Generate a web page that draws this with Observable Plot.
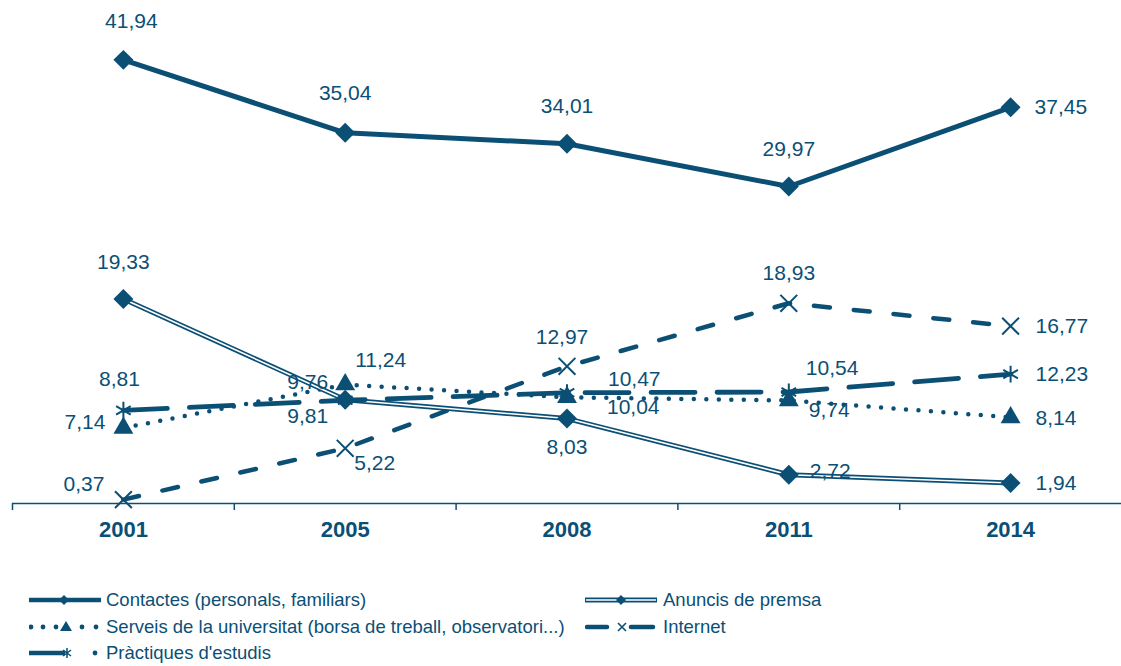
<!DOCTYPE html>
<html><head><meta charset="utf-8">
<script src="https://cdn.jsdelivr.net/npm/d3@7"></script>
<script src="https://cdn.jsdelivr.net/npm/@observablehq/plot@0.6"></script>
<style>
body{margin:0;background:#fff;font-family:"Liberation Sans",Arial,sans-serif;}
#wrap{position:relative;width:1121px;height:666px;overflow:hidden}
.leg{position:absolute;display:flex;align-items:center;height:22px;font-size:18.5px;color:#0b4f75;white-space:nowrap}
.leg svg{display:block}
</style></head><body><div id="wrap"></div>
<script>
// ---- data ----
const years = ["2001", "2005", "2008", "2011", "2014"];
const seriesNames = [
  "Contactes (personals, familiars)",
  "Anuncis de premsa",
  "Serveis de la universitat (borsa de treball, observatori...)",
  "Internet",
  "Pràctiques d'estudis"
];
const contactes  = [41.94, 35.04, 34.01, 29.97, 37.45];
const anuncis    = [19.33, 9.81, 8.03, 2.72, 1.94];
const serveis    = [7.14, 11.24, 10.04, 9.74, 8.14];
const internet   = [0.37, 5.22, 12.97, 18.93, 16.77];
const practiques = [8.81, 9.76, 10.47, 10.54, 12.23];

// ---- label placement (style) : [dx, dy, anchor] ----
const labContactes  = [[8,-39,"middle"],[0,-40,"middle"],[0,-37,"middle"],[0,-37,"middle"],[24,0,"start"]];
const labAnuncis    = [[0,-37,"middle"],[-17,17,"end"],[0,29,"middle"],[21,-3,"start"],[25,0,"start"]];
const labServeis    = [[-18,-6,"end"],[10,-24,"start"],[40,10,"start"],[20,10,"start"],[25,1,"start"]];
const labInternet   = [[-19,-15,"end"],[9,15,"start"],[-5,-29,"middle"],[0,-30,"middle"],[25,0,"start"]];
const labPractiques = [[-4,-31,"middle"],[-17,-18,"end"],[41,-13,"start"],[17,-24,"start"],[25,0,"start"]];

const C = "#0b4f75";
const fmt = v => v.toFixed(2).replace(".", ",");
const toRows = (vals) => vals.map((v, i) => ({year: years[i], value: v, i}));

const dContactes = toRows(contactes);
const dAnuncis = toRows(anuncis);
const dServeis = toRows(serveis);
const dInternet = toRows(internet);
const dPractiques = toRows(practiques);

const W = 1121, H = 553, mL = 12, mR = 0;
const step = (W - mL - mR) / years.length;

function labels(data, place) {
  return data.map((d, i) => Plot.text([d], {
    x: "year", y: "value", text: r => fmt(r.value),
    dx: place[i][0], dy: place[i][1], textAnchor: place[i][2],
    fontSize: 21, fill: C
  }));
}

const chart = Plot.plot({
  width: W, height: H,
  marginLeft: mL, marginRight: mR, marginTop: 27, marginBottom: 50,
  style: {fontFamily: '"Liberation Sans", Arial, sans-serif', background: "#fff", overflow: "visible"},
  x: {type: "point", domain: years, padding: 0.5, round: false, label: null},
  y: {domain: [0, 45], axis: null, label: null},
  marks: [
    Plot.ruleY([0], {stroke: C, strokeWidth: 1.5}),
    Plot.axisX({tickSize: 7, dx: -step / 2, text: null, label: null, stroke: C, strokeWidth: 1.5}),
    Plot.axisX({tickSize: 0, tickPadding: 18, label: null, fontSize: 22, fontWeight: "bold", fill: C}),
    // Internet
    Plot.line(dInternet, {x: "year", y: "value", stroke: C, strokeWidth: 4.5, strokeDasharray: "16,24", strokeLinecap: "round"}),
    // Serveis
    Plot.line(dServeis, {x: "year", y: "value", stroke: C, strokeWidth: 4.5, strokeDasharray: "0,12.5", strokeLinecap: "round"}),
    // Anuncis (double line)
    Plot.line(dAnuncis, {x: "year", y: "value", stroke: C, strokeWidth: 5}),
    Plot.line(dAnuncis, {x: "year", y: "value", stroke: "#fff", strokeWidth: 1.6}),
    // Pràctiques
    Plot.line(dPractiques, {x: "year", y: "value", stroke: C, strokeWidth: 4.8, strokeDasharray: "44,22"}),
    // Contactes
    Plot.line(dContactes, {x: "year", y: "value", stroke: C, strokeWidth: 5}),
    // markers
    Plot.dot(dInternet, {x: "year", y: "value", symbol: "times", r: 7.7, stroke: C, strokeWidth: 2, fill: "none"}),
    Plot.dot(dServeis, {x: "year", y: "value", symbol: "triangle2", r: 9.5, fill: C, stroke: "none"}),
    Plot.dot(dAnuncis, {x: "year", y: "value", symbol: "diamond2", r: 9, fill: C, stroke: "none"}),
    Plot.dot(dPractiques, {x: "year", y: "value", symbol: "asterisk", r: 8, stroke: C, strokeWidth: 2, fill: "none"}),
    Plot.dot(dContactes, {x: "year", y: "value", symbol: "diamond2", r: 9, fill: C, stroke: "none"}),
    // labels
    ...labels(dContactes, labContactes),
    ...labels(dAnuncis, labAnuncis),
    ...labels(dServeis, labServeis),
    ...labels(dInternet, labInternet),
    ...labels(dPractiques, labPractiques)
  ]
});

const wrap = document.getElementById("wrap");
wrap.appendChild(chart);

// ---- legend ----
const legendPos = [[29, 600, 77], [585, 600, 78], [29, 627, 77], [585, 627, 78], [29, 653, 77]];
const swatch = [
  (g) => { // contactes
    g.append("line").attr("x1", 0).attr("x2", 72).attr("y1", 8).attr("y2", 8).attr("stroke", C).attr("stroke-width", 4.5);
    g.append("path").attr("d", "M35,3L40,8L35,13L30,8Z").attr("fill", C);
  },
  (g) => { // anuncis
    g.append("line").attr("x1", 0).attr("x2", 72).attr("y1", 8).attr("y2", 8).attr("stroke", C).attr("stroke-width", 5);
    g.append("line").attr("x1", 1).attr("x2", 71).attr("y1", 8).attr("y2", 8).attr("stroke", "#fff").attr("stroke-width", 1.6);
    g.append("path").attr("d", "M36,3L41,8L36,13L31,8Z").attr("fill", C);
  },
  (g) => { // serveis
    [2, 14, 27, 53, 67].forEach(x => g.append("circle").attr("cx", x).attr("cy", 8).attr("r", 2.4).attr("fill", C));
    g.append("path").attr("d", "M37,2L43,12L31,12Z").attr("fill", C);
  },
  (g) => { // internet
    g.append("line").attr("x1", 2).attr("x2", 22).attr("y1", 8).attr("y2", 8).attr("stroke", C).attr("stroke-width", 4.5).attr("stroke-linecap", "round");
    g.append("line").attr("x1", 46).attr("x2", 68).attr("y1", 8).attr("y2", 8).attr("stroke", C).attr("stroke-width", 4.5).attr("stroke-linecap", "round");
    g.append("path").attr("d", "M33,4L41,12M41,4L33,12").attr("stroke", C).attr("stroke-width", 1.6);
  },
  (g) => { // practiques
    g.append("line").attr("x1", 0).attr("x2", 36).attr("y1", 8).attr("y2", 8).attr("stroke", C).attr("stroke-width", 4.5);
    g.append("path").attr("d", "M38,3V13M34,5L42,11M42,5L34,11").attr("stroke", C).attr("stroke-width", 1.5);
    g.append("circle").attr("cx", 66).attr("cy", 8).attr("r", 2.4).attr("fill", C);
  }
];
seriesNames.forEach((name, k) => {
  const [x, y, w] = legendPos[k];
  const div = d3.select(wrap).append("div").attr("class", "leg")
    .style("left", x + "px").style("top", (y - 11) + "px");
  const svg = div.append("svg").attr("width", w).attr("height", 16);
  swatch[k](svg);
  div.append("span").text(name);
});
</script>
</body></html>
